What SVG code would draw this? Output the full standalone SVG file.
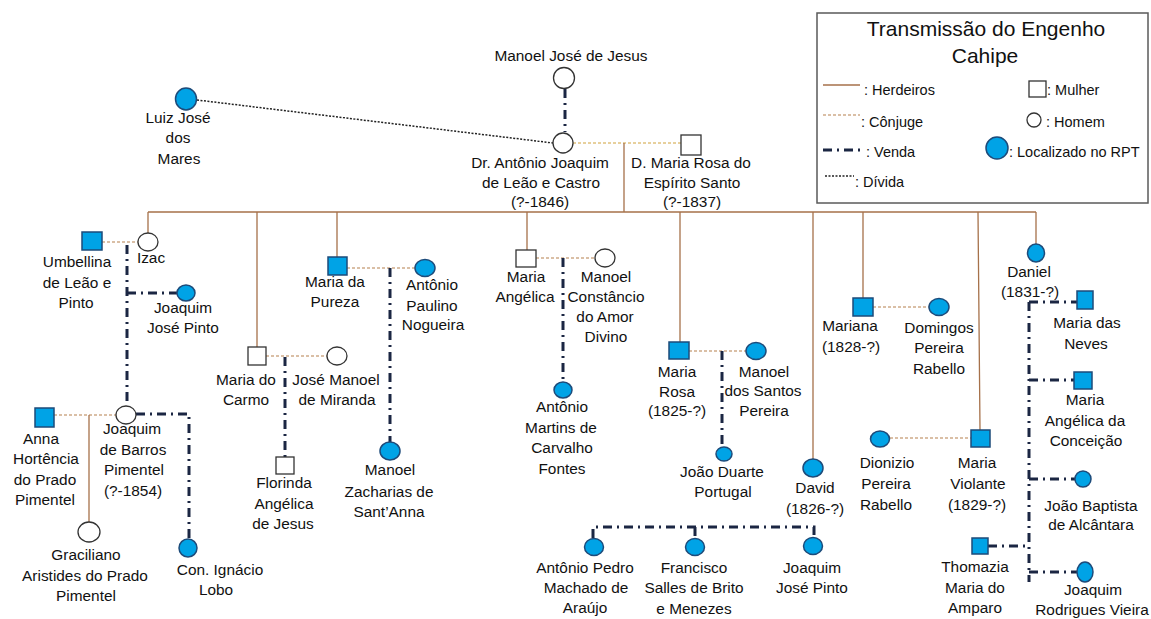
<svg xmlns="http://www.w3.org/2000/svg" width="1151" height="619" viewBox="0 0 1151 619">
<style>
.t{font-family:"Liberation Sans",Arial,sans-serif;font-size:15.4px;fill:#111;text-anchor:middle}
.lg{font-family:"Liberation Sans",Arial,sans-serif;font-size:14.5px;fill:#111}
.ttl{font-family:"Liberation Sans",Arial,sans-serif;font-size:21px;fill:#111;text-anchor:middle}
.her{stroke:#a6714a;stroke-width:1.3;fill:none}
.con{stroke:#b5804f;stroke-width:1.2;stroke-dasharray:3 2;fill:none}
.con2{stroke:#d0a23c;stroke-width:1.2;stroke-dasharray:3 2;fill:none}
.ven{stroke:#1b2643;stroke-width:3;stroke-dasharray:9 5 2 5;fill:none}
.div{stroke:#222;stroke-width:1.5;stroke-dasharray:2 1.5;fill:none}
.h{fill:#fff;stroke:#333;stroke-width:1.3}
.r{fill:#00a3e6;stroke:#1d4b7a;stroke-width:1.5}
</style>
<rect width="1151" height="619" fill="#fff"/>

<g id="legend">
<rect x="817" y="13" width="331" height="190" fill="#fff" stroke="#5a5a5a" stroke-width="1.5"/>
<text class="ttl" x="986" y="36">Transmissão do Engenho</text>
<text class="ttl" x="985" y="63">Cahipe</text>
<line class="her" x1="823" y1="85" x2="860" y2="85"/>
<text class="lg" x="864" y="95">:  Herdeiros</text>
<line class="con" x1="823" y1="115" x2="860" y2="115"/>
<text class="lg" x="861" y="127">: Cônjuge</text>
<path class="ven" d="M823,150 H860" stroke-dasharray="10 7 3 7"/>
<text class="lg" x="866" y="157">: Venda</text>
<line class="div" x1="825" y1="176" x2="854" y2="176"/>
<text class="lg" x="855" y="187">: Dívida</text>
<rect class="h" x="1029" y="81" width="17" height="16"/>
<text class="lg" x="1047" y="95">: Mulher</text>
<circle class="h" cx="1034" cy="120" r="7"/>
<text class="lg" x="1046" y="127">: Homem</text>
<ellipse class="r" cx="997" cy="148" rx="11" ry="11"/>
<text class="lg" x="1009" y="157">: Localizado no RPT</text>
</g>

<g id="connectors">
<path class="div" d="M197,100 L553,143"/>
<path class="ven" d="M565,89 V132"/>
<path class="con2" d="M573,143 H681"/>
<path class="her" d="M624,143 V212 M148,212 H1036 M148,212 V233 M257,212 V347 M337,212 V257 M527,212 V250 M680,212 V342 M813,212 V459 M863,212 V298 M978,212 L980,430 M1036,212 V244"/>
<path class="con" d="M102,242 H138"/>
<path class="ven" d="M127,245 V405 M127,293 H177"/>
<path class="con" d="M54,415 H116"/>
<path class="her" d="M89,415 V522"/>
<path class="ven" d="M136,414 H189 V539"/>
<path class="con" d="M266,356 H327"/>
<path class="ven" d="M285,357 V457"/>
<path class="con" d="M347,268 H415"/>
<path class="ven" d="M390,268 V442"/>
<path class="con" d="M536,258 H595"/>
<path class="ven" d="M563,258 V382"/>
<path class="con" d="M689,351 H746"/>
<path class="ven" d="M722,351 V447"/>
<path class="ven" d="M593,538 V527 H814 V538 M695,527 V538"/>
<path class="con" d="M873,307 H929"/>
<path class="con" d="M890,438 H971"/>
<path class="ven" d="M1029,302 H1077 M1029,302 V582 M1029,380 H1074 M1029,479 H1075 M988,546 H1029 M1029,572 H1077"/>
</g>

<g id="manoel_jose_de_jesus"><circle class="h" cx="564" cy="78" r="10.5"/><text class="t" x="571" y="61">Manoel José de Jesus</text></g>
<g id="dr_antonio"><circle class="h" cx="563" cy="143" r="10"/><text class="t"><tspan x="540" y="168">Dr. Antônio Joaquim</tspan><tspan x="541" y="188">de Leão e Castro</tspan><tspan x="540" y="207">(?-1846)</tspan></text></g>
<g id="d_maria_rosa"><rect class="h" x="681" y="135" width="20" height="20"/><text class="t"><tspan x="691" y="168">D. Maria Rosa do</tspan><tspan x="692" y="188">Espírito Santo</tspan><tspan x="692" y="207">(?-1837)</tspan></text></g>
<g id="luiz_jose"><ellipse class="r" cx="186" cy="99" rx="10.5" ry="11"/><text class="t"><tspan x="178" y="123">Luiz José</tspan><tspan x="178" y="143">dos</tspan><tspan x="179" y="164">Mares</tspan></text></g>

<g id="umbellina"><rect class="r" x="82" y="232" width="20" height="18"/><text class="t"><tspan x="77" y="267">Umbellina</tspan><tspan x="77" y="288">de Leão e</tspan><tspan x="76" y="308">Pinto</tspan></text></g>
<g id="izac"><ellipse class="h" cx="148" cy="242" rx="10" ry="9"/><text class="t" x="151" y="263">Izac</text></g>
<g id="joaquim_jose_pinto_1"><ellipse class="r" cx="186" cy="293" rx="9" ry="8"/><text class="t"><tspan x="183" y="313">Joaquim</tspan><tspan x="183" y="333">José Pinto</tspan></text></g>
<g id="joaquim_barros"><ellipse class="h" cx="126" cy="415" rx="10" ry="9"/><text class="t"><tspan x="132" y="434">Joaquim</tspan><tspan x="133" y="455">de Barros</tspan><tspan x="134" y="475">Pimentel</tspan><tspan x="133" y="496">(?-1854)</tspan></text></g>
<g id="anna"><rect class="r" x="35" y="408" width="19" height="19"/><text class="t"><tspan x="41" y="444">Anna</tspan><tspan x="46" y="464">Hortência</tspan><tspan x="45" y="485">do Prado</tspan><tspan x="45" y="505">Pimentel</tspan></text></g>
<g id="graciliano"><ellipse class="h" cx="89" cy="532" rx="11" ry="10"/><text class="t"><tspan x="86" y="560">Graciliano</tspan><tspan x="85" y="581">Aristides do Prado</tspan><tspan x="86" y="601">Pimentel</tspan></text></g>
<g id="con_ignacio"><ellipse class="r" cx="188" cy="548" rx="9" ry="9"/><text class="t"><tspan x="220" y="575">Con. Ignácio</tspan><tspan x="216" y="595">Lobo</tspan></text></g>

<g id="maria_do_carmo"><rect class="h" x="248" y="347" width="18" height="18"/><text class="t"><tspan x="246" y="385">Maria do</tspan><tspan x="246" y="405">Carmo</tspan></text></g>
<g id="jose_manoel"><ellipse class="h" cx="337" cy="356" rx="10" ry="9"/><text class="t"><tspan x="336" y="385">José Manoel</tspan><tspan x="337" y="405">de Miranda</tspan></text></g>
<g id="florinda"><rect class="h" x="276" y="457" width="18" height="17"/><text class="t"><tspan x="284" y="488">Florinda</tspan><tspan x="284" y="509">Angélica</tspan><tspan x="283" y="529">de Jesus</tspan></text></g>

<g id="maria_da_pureza"><rect class="r" x="328" y="257" width="19" height="18"/><text class="t"><tspan x="335" y="287">Maria da</tspan><tspan x="335" y="307">Pureza</tspan></text></g>
<g id="antonio_paulino"><ellipse class="r" cx="425" cy="268" rx="10" ry="8.5"/><text class="t"><tspan x="432" y="290">Antônio</tspan><tspan x="432" y="311">Paulino</tspan><tspan x="433" y="330">Nogueira</tspan></text></g>
<g id="manoel_zacharias"><ellipse class="r" cx="390" cy="451" rx="10" ry="9"/><text class="t"><tspan x="390" y="475">Manoel</tspan><tspan x="389" y="497">Zacharias de</tspan><tspan x="389" y="517">Sant’Anna</tspan></text></g>

<g id="maria_angelica"><rect class="h" x="516" y="250" width="20" height="17"/><text class="t"><tspan x="526" y="282">Maria</tspan><tspan x="525" y="302">Angélica</tspan></text></g>
<g id="manoel_constancio"><ellipse class="h" cx="605" cy="258" rx="10" ry="9"/><text class="t"><tspan x="606" y="282">Manoel</tspan><tspan x="606" y="302">Constâncio</tspan><tspan x="605" y="322">do Amor</tspan><tspan x="606" y="342">Divino</tspan></text></g>
<g id="antonio_martins"><ellipse class="r" cx="563" cy="390" rx="9" ry="8"/><text class="t"><tspan x="562" y="412">Antônio</tspan><tspan x="561" y="433">Martins de</tspan><tspan x="562" y="453">Carvalho</tspan><tspan x="562" y="474">Fontes</tspan></text></g>

<g id="maria_rosa"><rect class="r" x="669" y="342" width="20" height="17"/><text class="t"><tspan x="677" y="377">Maria</tspan><tspan x="677" y="397">Rosa</tspan><tspan x="677" y="416">(1825-?)</tspan></text></g>
<g id="manoel_santos"><ellipse class="r" cx="756" cy="351" rx="10" ry="8.5"/><text class="t"><tspan x="764" y="377">Manoel</tspan><tspan x="763" y="396">dos Santos</tspan><tspan x="764" y="416">Pereira</tspan></text></g>
<g id="joao_duarte"><ellipse class="r" cx="724" cy="454" rx="8" ry="7"/><text class="t"><tspan x="722" y="477">João Duarte</tspan><tspan x="723" y="497">Portugal</tspan></text></g>

<g id="david"><ellipse class="r" cx="813" cy="468" rx="10" ry="9"/><text class="t"><tspan x="815" y="493">David</tspan><tspan x="815" y="514">(1826-?)</tspan></text></g>
<g id="antonio_pedro"><ellipse class="r" cx="594" cy="547" rx="9.5" ry="8.5"/><text class="t"><tspan x="585" y="573">Antônio Pedro</tspan><tspan x="586" y="593">Machado de</tspan><tspan x="585" y="613">Araújo</tspan></text></g>
<g id="francisco"><ellipse class="r" cx="695" cy="547" rx="9.5" ry="8.5"/><text class="t"><tspan x="694" y="573">Francisco</tspan><tspan x="694" y="593">Salles de Brito</tspan><tspan x="694" y="614">e Menezes</tspan></text></g>
<g id="joaquim_jose_pinto_2"><ellipse class="r" cx="813" cy="546" rx="9.5" ry="8.5"/><text class="t"><tspan x="812" y="573">Joaquim</tspan><tspan x="812" y="593">José Pinto</tspan></text></g>

<g id="mariana"><rect class="r" x="853" y="298" width="20" height="18"/><text class="t"><tspan x="850" y="331">Mariana</tspan><tspan x="851" y="352">(1828-?)</tspan></text></g>
<g id="domingos"><ellipse class="r" cx="939" cy="307" rx="10" ry="8.5"/><text class="t"><tspan x="939" y="333">Domingos</tspan><tspan x="939" y="353">Pereira</tspan><tspan x="939" y="374">Rabello</tspan></text></g>
<g id="dionizio"><ellipse class="r" cx="880" cy="439" rx="9.5" ry="8"/><text class="t"><tspan x="887" y="468">Dionizio</tspan><tspan x="886" y="489">Pereira</tspan><tspan x="886" y="510">Rabello</tspan></text></g>
<g id="maria_violante"><rect class="r" x="971" y="430" width="19" height="17"/><text class="t"><tspan x="977" y="468">Maria</tspan><tspan x="978" y="489">Violante</tspan><tspan x="977" y="510">(1829-?)</tspan></text></g>

<g id="daniel"><ellipse class="r" cx="1036" cy="253" rx="8.5" ry="9"/><text class="t"><tspan x="1029" y="277">Daniel</tspan><tspan x="1030" y="297">(1831-?)</tspan></text></g>
<g id="maria_das_neves"><rect class="r" x="1077" y="291" width="16" height="18"/><text class="t"><tspan x="1087" y="328">Maria das</tspan><tspan x="1086" y="349">Neves</tspan></text></g>
<g id="maria_angelica_conceicao"><rect class="r" x="1074" y="372" width="18" height="17"/><text class="t"><tspan x="1085" y="405">Maria</tspan><tspan x="1085" y="426">Angélica da</tspan><tspan x="1086" y="446">Conceição</tspan></text></g>
<g id="joao_baptista"><ellipse class="r" cx="1083" cy="479" rx="8" ry="8"/><text class="t"><tspan x="1091" y="511">João Baptista</tspan><tspan x="1091" y="530">de Alcântara</tspan></text></g>
<g id="thomazia"><rect class="r" x="972" y="538" width="16" height="16"/><text class="t"><tspan x="975" y="572">Thomazia</tspan><tspan x="975" y="593">Maria do</tspan><tspan x="975" y="613">Amparo</tspan></text></g>
<g id="joaquim_rodrigues"><ellipse class="r" cx="1085" cy="572" rx="8" ry="10"/><text class="t"><tspan x="1093" y="595">Joaquim</tspan><tspan x="1092" y="615">Rodrigues Vieira</tspan></text></g>
</svg>
